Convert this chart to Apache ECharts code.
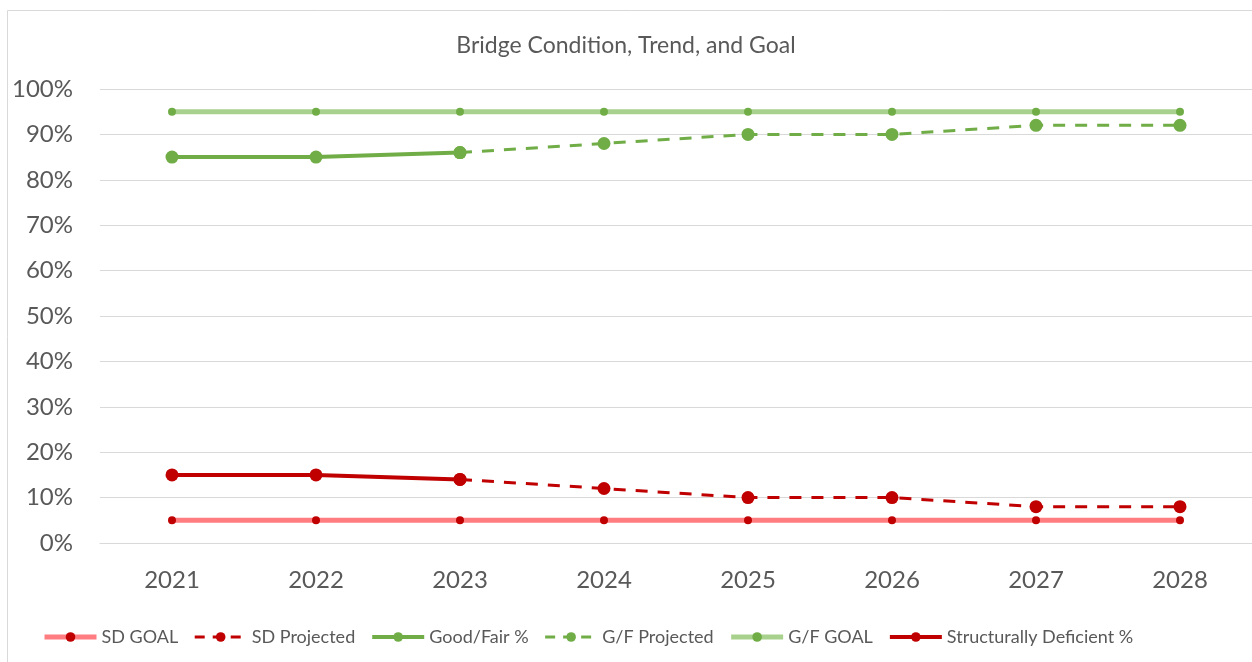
<!DOCTYPE html>
<html>
<head>
<meta charset="utf-8">
<script src="https://cdn.jsdelivr.net/npm/echarts@6/dist/echarts.min.js"></script>
<style>
  html, body { margin: 0; padding: 0; background: #fff; }
  #main { width: 1252px; height: 662px; }
</style>
</head>
<body>
<div id="main"></div>
<script>
var years = ['2021', '2022', '2023', '2024', '2025', '2026', '2027', '2028'];
var sdGoal = [5, 5, 5, 5, 5, 5, 5, 5];
var sdProjected = [null, null, 14, 12, 10, 10, 8, 8];
var goodFair = [85, 85, 86, null, null, null, null, null];
var gfProjected = [null, null, 86, 88, 90, 90, 92, 92];
var gfGoal = [95, 95, 95, 95, 95, 95, 95, 95];
var sdActual = [15, 15, 14, null, null, null, null, null];

var FONT = 'Lato';
var TEXT = '#595959';
var DARK_RED = '#C00000';
var LIGHT_RED = '#FF7C80';
var GREEN = '#70AD47';
var LIGHT_GREEN = '#A9D18E';

var myChart = echarts.init(document.getElementById('main'));

function line(name, data, color, width, dash, symColor, symSize) {
    return {
        name: name,
        type: 'line',
        data: data,
        symbol: 'circle',
        symbolSize: symSize,
        connectNulls: false,
        lineStyle: { color: color, width: width, type: dash },
        itemStyle: { color: symColor },
        emphasis: { disabled: true },
        animation: false
    };
}

// legend entries with their own line widths
function legendItem(name, width, dash) {
    return { name: name, lineStyle: { width: width, type: dash } };
}

var option = {
    backgroundColor: '#fff',
    textStyle: { fontFamily: FONT },
    title: {
        text: 'Bridge Condition, Trend, and Goal',
        left: 'center',
        top: 29,
        textStyle: { color: TEXT, fontSize: 23, fontWeight: 'normal', fontFamily: FONT }
    },
    graphic: [{
        type: 'rect',
        shape: { x: 7.5, y: 10.5, width: 1260, height: 700 },
        style: { fill: 'none', stroke: '#d9d9d9', lineWidth: 1 },
        silent: true
    }],
    legend: {
        bottom: 11,
        left: 37,
        itemWidth: 52,
        itemHeight: 12,
        itemGap: 15,
        textStyle: { color: TEXT, fontSize: 18, fontFamily: FONT },
        data: [
            legendItem('SD GOAL', 5, 'solid'),
            legendItem('SD Projected', 3, [10, 8]),
            legendItem('Good/Fair %', 4, 'solid'),
            legendItem('G/F Projected', 3, [10, 8]),
            legendItem('G/F GOAL', 5, 'solid'),
            legendItem('Structurally Deficient %', 4, 'solid')
        ]
    },
    grid: { left: 100, right: 0, top: 89, bottom: 119, containLabel: false },
    xAxis: {
        type: 'category',
        data: years,
        boundaryGap: true,
        axisLine: { lineStyle: { color: '#d9d9d9' } },
        axisTick: { show: false },
        axisLabel: { color: TEXT, fontSize: 24, margin: 25, fontFamily: FONT }
    },
    yAxis: {
        type: 'value',
        min: 0,
        max: 100,
        interval: 10,
        axisLine: { show: false },
        axisTick: { show: false },
        splitLine: { lineStyle: { color: '#d9d9d9', width: 1 } },
        axisLabel: { color: TEXT, fontSize: 24, margin: 27, fontFamily: FONT, formatter: '{value}%' }
    },
    series: [
        line('SD GOAL', sdGoal, LIGHT_RED, 5, 'solid', DARK_RED, 8),
        line('SD Projected', sdProjected, DARK_RED, 3, [12, 10], DARK_RED, 13),
        line('Good/Fair %', goodFair, GREEN, 4, 'solid', GREEN, 13),
        line('G/F Projected', gfProjected, GREEN, 3, [12, 10], GREEN, 13),
        line('G/F GOAL', gfGoal, LIGHT_GREEN, 5, 'solid', GREEN, 8),
        line('Structurally Deficient %', sdActual, DARK_RED, 4, 'solid', DARK_RED, 13)
    ]
};

myChart.setOption(option);
</script>
</body>
</html>
